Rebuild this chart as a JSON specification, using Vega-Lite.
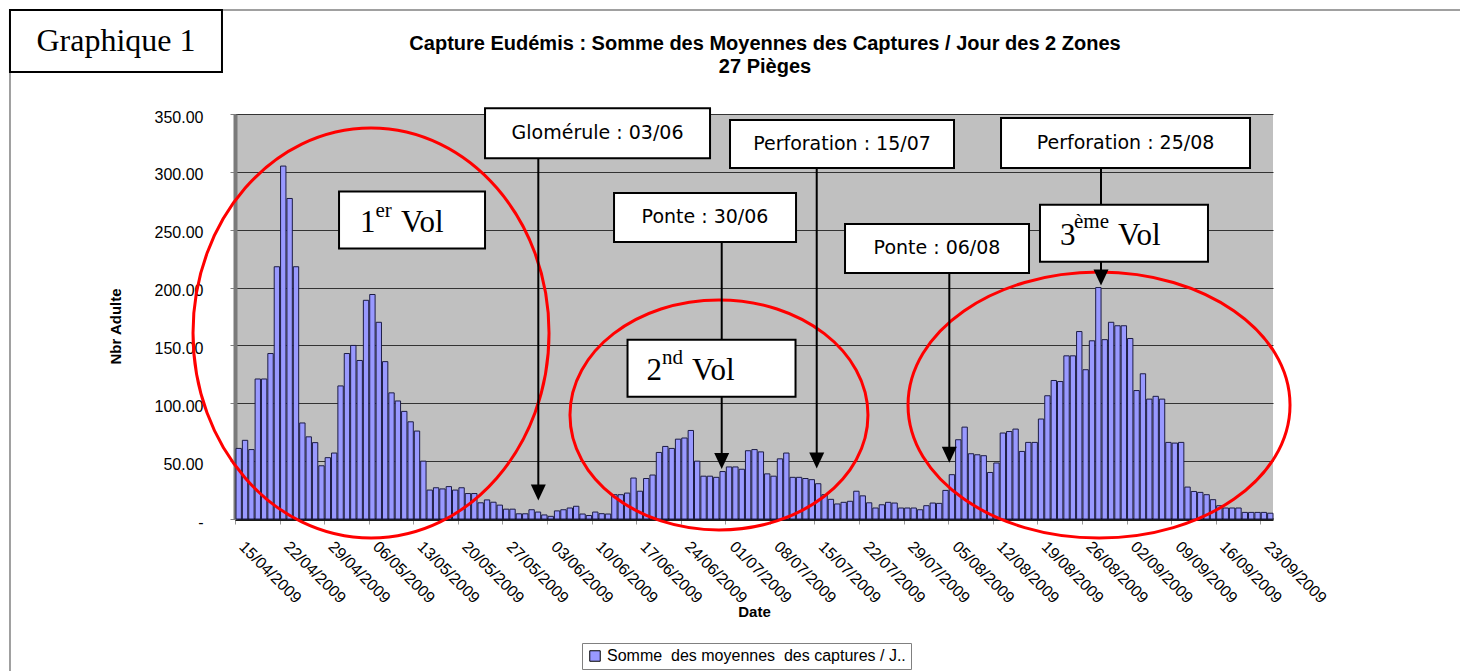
{
  "$schema": "https://vega.github.io/schema/vega-lite/v6.json",
  "width": 1038,
  "height": 405,
  "autosize": {"type": "none"},
  "padding": {"left": 235, "top": 114, "right": 187, "bottom": 152},
  "background": "#FFFFFF",
  "config": {"view": {"fill": "#C0C0C0", "stroke": null}},
  "title": {
    "text": ["Capture Eudémis : Somme des Moyennes des Captures / Jour des 2 Zones", "27 Pièges"],
    "font": "Liberation Sans", "fontSize": 20, "fontWeight": "bold", "color": "#000000",
    "anchor": "middle", "frame": "group", "offset": -71, "lineHeight": 23, "dx": 11
  },
  "resolve": {"scale": {"shape": "independent"}},
  "datasets": {
    "captures": [
      {"d":"2009-04-15","v":61},{"d":"2009-04-16","v":68},{"d":"2009-04-17","v":60},{"d":"2009-04-18","v":121},{"d":"2009-04-19","v":121},{"d":"2009-04-20","v":143},{"d":"2009-04-21","v":218},{"d":"2009-04-22","v":305},{"d":"2009-04-23","v":277},{"d":"2009-04-24","v":218},{"d":"2009-04-25","v":83},{"d":"2009-04-26","v":71},{"d":"2009-04-27","v":66},{"d":"2009-04-28","v":46},{"d":"2009-04-29","v":53},{"d":"2009-04-30","v":57},
      {"d":"2009-05-01","v":115},{"d":"2009-05-02","v":143},{"d":"2009-05-03","v":150},{"d":"2009-05-04","v":137},{"d":"2009-05-05","v":189},{"d":"2009-05-06","v":194},{"d":"2009-05-07","v":170},{"d":"2009-05-08","v":136},{"d":"2009-05-09","v":109},{"d":"2009-05-10","v":102},{"d":"2009-05-11","v":93},{"d":"2009-05-12","v":84},{"d":"2009-05-13","v":76},{"d":"2009-05-14","v":50},{"d":"2009-05-15","v":25},{"d":"2009-05-16","v":27},{"d":"2009-05-17","v":26},{"d":"2009-05-18","v":28},{"d":"2009-05-19","v":25},{"d":"2009-05-20","v":27},{"d":"2009-05-21","v":22},{"d":"2009-05-22","v":22},{"d":"2009-05-23","v":14},{"d":"2009-05-24","v":16.5},{"d":"2009-05-25","v":14.5},{"d":"2009-05-26","v":12},{"d":"2009-05-27","v":8.5},{"d":"2009-05-28","v":8.5},{"d":"2009-05-29","v":4.5},{"d":"2009-05-30","v":4.5},{"d":"2009-05-31","v":8},
      {"d":"2009-06-01","v":6},{"d":"2009-06-02","v":3.5},{"d":"2009-06-03","v":2.3},{"d":"2009-06-04","v":7},{"d":"2009-06-05","v":8},{"d":"2009-06-06","v":9.5},{"d":"2009-06-07","v":11},{"d":"2009-06-08","v":4.3},{"d":"2009-06-09","v":3},{"d":"2009-06-10","v":6},{"d":"2009-06-11","v":4.6},{"d":"2009-06-12","v":4.3},{"d":"2009-06-13","v":21},{"d":"2009-06-14","v":21},{"d":"2009-06-15","v":22.4},{"d":"2009-06-16","v":35.4},{"d":"2009-06-17","v":24},{"d":"2009-06-18","v":35},{"d":"2009-06-19","v":38},{"d":"2009-06-20","v":57.5},{"d":"2009-06-21","v":62.7},{"d":"2009-06-22","v":61},{"d":"2009-06-23","v":69},{"d":"2009-06-24","v":70},{"d":"2009-06-25","v":76.5},{"d":"2009-06-26","v":50},{"d":"2009-06-27","v":37},{"d":"2009-06-28","v":37},{"d":"2009-06-29","v":36},{"d":"2009-06-30","v":41},
      {"d":"2009-07-01","v":45},{"d":"2009-07-02","v":45},{"d":"2009-07-03","v":43},{"d":"2009-07-04","v":59},{"d":"2009-07-05","v":60},{"d":"2009-07-06","v":58},{"d":"2009-07-07","v":39},{"d":"2009-07-08","v":37},{"d":"2009-07-09","v":52},{"d":"2009-07-10","v":57},{"d":"2009-07-11","v":36},{"d":"2009-07-12","v":36},{"d":"2009-07-13","v":35},{"d":"2009-07-14","v":34},{"d":"2009-07-15","v":30.5},{"d":"2009-07-16","v":21},{"d":"2009-07-17","v":17},{"d":"2009-07-18","v":13},{"d":"2009-07-19","v":14.4},{"d":"2009-07-20","v":15.3},{"d":"2009-07-21","v":24},{"d":"2009-07-22","v":20},{"d":"2009-07-23","v":14},{"d":"2009-07-24","v":9.5},{"d":"2009-07-25","v":12.3},{"d":"2009-07-26","v":14.4},{"d":"2009-07-27","v":13.8},{"d":"2009-07-28","v":9.5},{"d":"2009-07-29","v":9.5},{"d":"2009-07-30","v":9.5},{"d":"2009-07-31","v":8},
      {"d":"2009-08-01","v":11.5},{"d":"2009-08-02","v":13.8},{"d":"2009-08-03","v":13.5},{"d":"2009-08-04","v":24.7},{"d":"2009-08-05","v":38.3},{"d":"2009-08-06","v":68.5},{"d":"2009-08-07","v":79.4},{"d":"2009-08-08","v":56.4},{"d":"2009-08-09","v":55.5},{"d":"2009-08-10","v":54.7},{"d":"2009-08-11","v":40.2},{"d":"2009-08-12","v":48.4},{"d":"2009-08-13","v":74.3},{"d":"2009-08-14","v":75.6},{"d":"2009-08-15","v":77.7},{"d":"2009-08-16","v":58.4},{"d":"2009-08-17","v":66.2},{"d":"2009-08-18","v":66.2},{"d":"2009-08-19","v":86.4},{"d":"2009-08-20","v":106.5},{"d":"2009-08-21","v":119.7},{"d":"2009-08-22","v":118.8},{"d":"2009-08-23","v":141},{"d":"2009-08-24","v":141},{"d":"2009-08-25","v":162},{"d":"2009-08-26","v":129},{"d":"2009-08-27","v":154},{"d":"2009-08-28","v":200},{"d":"2009-08-29","v":155},{"d":"2009-08-30","v":170},{"d":"2009-08-31","v":167},
      {"d":"2009-09-01","v":167},{"d":"2009-09-02","v":156},{"d":"2009-09-03","v":111},{"d":"2009-09-04","v":125.5},{"d":"2009-09-05","v":103.6},{"d":"2009-09-06","v":106},{"d":"2009-09-07","v":103.6},{"d":"2009-09-08","v":66.2},{"d":"2009-09-09","v":65.6},{"d":"2009-09-10","v":66.2},{"d":"2009-09-11","v":27.6},{"d":"2009-09-12","v":23.8},{"d":"2009-09-13","v":23},{"d":"2009-09-14","v":21},{"d":"2009-09-15","v":16.7},{"d":"2009-09-16","v":11.5},{"d":"2009-09-17","v":9.5},{"d":"2009-09-18","v":9.5},{"d":"2009-09-19","v":9.5},{"d":"2009-09-20","v":5.7},{"d":"2009-09-21","v":5.7},{"d":"2009-09-22","v":5.7},{"d":"2009-09-23","v":5.7},{"d":"2009-09-24","v":5}
    ],
    "frame": [
      {"d":"2009-03-10T16:00:00Z","d2":"2009-10-26T00:00:00Z","v":439.9,"v2":439.9},
      {"d":"2009-03-10T16:00:00Z","d2":"2009-03-10T16:00:00Z","v":439.9,"v2":-135}
    ],
    "ellipses": [
      {"id":"e1","d":"2009-05-06T08:38:00Z","v":160.7},
      {"id":"e2","d":"2009-06-30T00:00:00Z","v":89.9},
      {"id":"e3","d":"2009-08-28T16:19:00Z","v":98.5}
    ],
    "arrows": [
      {"d":"2009-06-01T15:07:00Z","v":311.7,"tip":22.9},
      {"d":"2009-07-15T08:24:00Z","v":303.3,"tip":50.6},
      {"d":"2009-06-30T10:19:00Z","v":239.4,"tip":50.1},
      {"d":"2009-08-05T04:05:00Z","v":212.6,"tip":55.6},
      {"d":"2009-08-28T23:46:00Z","v":303.3,"tip":208.7}
    ],
    "heads": [
      {"d":"2009-06-01T15:07:00Z","v":22.9},
      {"d":"2009-07-15T08:24:00Z","v":50.6},
      {"d":"2009-06-30T10:19:00Z","v":50.1},
      {"d":"2009-08-05T04:05:00Z","v":55.6},
      {"d":"2009-08-28T23:46:00Z","v":208.7}
    ],
    "boxes": [
      {"id":"glom","d":"2009-06-10T22:19:00Z","v":333.3,"txt":"Glomérule : 03/06"},
      {"id":"perf1","d":"2009-07-19T07:41:00Z","v":324.1,"txt":"Perforation : 15/07"},
      {"id":"perf2","d":"2009-09-01T20:10:00Z","v":325.0,"txt":"Perforation : 25/08"},
      {"id":"vol1","d":"2009-05-12T19:12:00Z","v":258.4,"txt":""},
      {"id":"ponte1","d":"2009-06-27T19:26:00Z","v":260.6,"txt":"Ponte : 30/06"},
      {"id":"ponte2","d":"2009-08-03T05:45:00Z","v":233.8,"txt":"Ponte : 06/08"},
      {"id":"vol3","d":"2009-09-01T14:24:00Z","v":246.9,"txt":""},
      {"id":"vol2","d":"2009-06-28T19:55:00Z","v":130.2,"txt":""},
      {"id":"graph","d":"2009-03-27T07:26:00Z","v":413.1,"txt":"Graphique 1"}
    ],
    "volMain": [
      {"t":"1","d":"2009-05-04T15:07:00Z","v":248.3},
      {"t":"Vol","d":"2009-05-11T01:41:00Z","v":248.3},
      {"t":"2","d":"2009-06-18T14:53:00Z","v":120.1},
      {"t":"Vol","d":"2009-06-25T18:29:00Z","v":120.1},
      {"t":"3","d":"2009-08-22T13:12:00Z","v":236.8},
      {"t":"Vol","d":"2009-08-31T15:50:00Z","v":236.8}
    ],
    "volSup": [
      {"t":"er","d":"2009-05-07T01:26:00Z","v":261.3},
      {"t":"nd","d":"2009-06-21T01:12:00Z","v":133.7},
      {"t":"ème","d":"2009-08-24T18:00:00Z","v":251.2}
    ]
  },
  "layer": [
    {
      "data": {"name": "captures"},
      "mark": {"type": "bar", "stroke": "#1c1c44", "strokeWidth": 1},
      "encoding": {
        "x": {
          "field": "d", "type": "temporal", "timeUnit": "utcyearmonthdate",
          "scale": {"type": "utc", "nice": false, "domain": [{"year":2009,"month":"apr","date":15,"utc":true},{"year":2009,"month":"sep","date":25,"utc":true}]},
          "axis": {
            "title": "Date",
            "values": [
              {"year":2009,"month":"apr","date":15,"utc":true},{"year":2009,"month":"apr","date":22,"utc":true},{"year":2009,"month":"apr","date":29,"utc":true},
              {"year":2009,"month":"may","date":6,"utc":true},{"year":2009,"month":"may","date":13,"utc":true},{"year":2009,"month":"may","date":20,"utc":true},{"year":2009,"month":"may","date":27,"utc":true},
              {"year":2009,"month":"jun","date":3,"utc":true},{"year":2009,"month":"jun","date":10,"utc":true},{"year":2009,"month":"jun","date":17,"utc":true},{"year":2009,"month":"jun","date":24,"utc":true},
              {"year":2009,"month":"jul","date":1,"utc":true},{"year":2009,"month":"jul","date":8,"utc":true},{"year":2009,"month":"jul","date":15,"utc":true},{"year":2009,"month":"jul","date":22,"utc":true},{"year":2009,"month":"jul","date":29,"utc":true},
              {"year":2009,"month":"aug","date":5,"utc":true},{"year":2009,"month":"aug","date":12,"utc":true},{"year":2009,"month":"aug","date":19,"utc":true},{"year":2009,"month":"aug","date":26,"utc":true},
              {"year":2009,"month":"sep","date":2,"utc":true},{"year":2009,"month":"sep","date":9,"utc":true},{"year":2009,"month":"sep","date":16,"utc":true},{"year":2009,"month":"sep","date":23,"utc":true}
            ],
            "labelExpr": "utcFormat(datum.value, '%d/%m/%Y')",
            "labelAngle": 45, "labelAlign": "left", "labelBaseline": "top",
            "labelFont": "Liberation Sans", "labelFontSize": 16, "labelColor": "#000000",
            "labelPadding": 14, "labelOffset": 12, "labelOverlap": false, "labelFlush": false, "labelBound": false,
            "tickSize": 5, "tickColor": "#999999", "domainColor": "#1a1a1a", "domainWidth": 3, "grid": false,
            "titleFont": "Liberation Sans", "titleFontSize": 15, "titleFontWeight": "bold", "titleColor": "#000000",
            "titleX": 519, "titleY": 92, "titleBaseline": "middle"
          }
        },
        "y": {
          "field": "v", "type": "quantitative",
          "scale": {"domain": [0, 350], "nice": false},
          "axis": {
            "title": "Nbr Adulte",
            "values": [0, 50, 100, 150, 200, 250, 300, 350],
            "labelExpr": "datum.value == 0 ? '-\u2007' : format(datum.value, '.2f')",
            "grid": true, "gridColor": "#333333", "gridWidth": 1,
            "domainColor": "#7a7a7a", "domainWidth": 4,
            "tickColor": "#808080", "tickSize": 5,
            "labelPadding": 27, "labelOffset": 3,
            "labelFont": "Liberation Sans", "labelFontSize": 16, "labelColor": "#000000",
            "titleFont": "Liberation Sans", "titleFontSize": 15, "titleFontWeight": "bold", "titleColor": "#000000",
            "titleAngle": -90, "titleX": -120, "titleY": 212, "titleBaseline": "middle", "titleAlign": "center"
          }
        },
        "color": {
          "datum": "Somme\u00a0 des moyennes\u00a0 des captures / J..", "type": "nominal",
          "scale": {"range": ["#9999FF"]},
          "legend": {
            "title": null, "orient": "none", "legendX": 347, "legendY": 529, "direction": "horizontal",
            "symbolType": "square", "symbolSize": 110, "symbolStrokeColor": "#000000", "symbolStrokeWidth": 1,
            "labelFont": "Liberation Sans", "labelFontSize": 16, "labelColor": "#000000", "labelLimit": 500,
            "strokeColor": "#808080", "fillColor": "#FFFFFF", "padding": 5
          }
        }
      }
    },
    {
      "data": {"name": "frame"},
      "mark": {"type": "rule", "color": "#808080", "strokeWidth": 1.5},
      "encoding": {
        "x": {"field": "d", "type": "temporal"},
        "x2": {"field": "d2"},
        "y": {"field": "v", "type": "quantitative"},
        "y2": {"field": "v2"}
      }
    },
    {
      "data": {"name": "ellipses"},
      "mark": {"type": "point", "filled": false, "color": "#FF0000", "strokeWidth": 3, "size": 4, "opacity": 1},
      "encoding": {
        "x": {"field": "d", "type": "temporal"},
        "y": {"field": "v", "type": "quantitative"},
        "shape": {
          "field": "id", "type": "nominal", "legend": null,
          "scale": {
            "domain": ["e1", "e2", "e3"],
            "range": [
              "M-178,0C-178,-113.2,-98.3,-205,0,-205C98.3,-205,178,-113.2,178,0C178,113.2,98.3,205,0,205C-98.3,205,-178,113.2,-178,0Z",
              "M-149,0C-149,-63.5,-82.3,-115,0,-115C82.3,-115,149,-63.5,149,0C149,63.5,82.3,115,0,115C-82.3,115,-149,63.5,-149,0Z",
              "M-191,0C-191,-73.5,-105.5,-133,0,-133C105.5,-133,191,-73.5,191,0C191,73.5,105.5,133,0,133C-105.5,133,-191,73.5,-191,0Z"
            ]
          }
        }
      }
    },
    {
      "data": {"name": "arrows"},
      "mark": {"type": "rule", "color": "#000000", "strokeWidth": 2},
      "encoding": {
        "x": {"field": "d", "type": "temporal"},
        "y": {"field": "v", "type": "quantitative"},
        "y2": {"field": "tip"}
      }
    },
    {
      "data": {"name": "heads"},
      "mark": {"type": "point", "filled": true, "color": "#000000", "size": 4, "opacity": 1, "shape": "M-7.5,-8L7.5,-8L0,8Z"},
      "encoding": {
        "x": {"field": "d", "type": "temporal"},
        "y": {"field": "v", "type": "quantitative"}
      }
    },
    {
      "data": {"name": "boxes"},
      "mark": {"type": "point", "filled": true, "fill": "#FFFFFF", "stroke": "#000000", "strokeWidth": 2, "size": 4, "opacity": 1, "fillOpacity": 1},
      "encoding": {
        "x": {"field": "d", "type": "temporal"},
        "y": {"field": "v", "type": "quantitative"},
        "shape": {
          "field": "id", "type": "nominal", "legend": null,
          "scale": {
            "domain": ["glom", "perf1", "perf2", "vol1", "ponte1", "ponte2", "vol3", "vol2", "graph"],
            "range": [
              "M-112.5,-25L112.5,-25L112.5,25L-112.5,25Z",
              "M-112,-24L112,-24L112,24L-112,24Z",
              "M-124.5,-25L124.5,-25L124.5,25L-124.5,25Z",
              "M-73,-28.5L73,-28.5L73,28.5L-73,28.5Z",
              "M-91,-24.5L91,-24.5L91,24.5L-91,24.5Z",
              "M-92,-24.5L92,-24.5L92,24.5L-92,24.5Z",
              "M-84,-28.5L84,-28.5L84,28.5L-84,28.5Z",
              "M-84,-28.5L84,-28.5L84,28.5L-84,28.5Z",
              "M-106,-31L106,-31L106,31L-106,31Z"
            ]
          }
        }
      }
    },
    {
      "data": {"name": "boxes"},
      "transform": [{"filter": "datum.txt != '' && datum.id != 'graph'"}],
      "mark": {"type": "text", "font": "DejaVu Sans", "fontSize": 19, "color": "#000000", "align": "center", "baseline": "middle"},
      "encoding": {
        "x": {"field": "d", "type": "temporal"},
        "y": {"field": "v", "type": "quantitative"},
        "text": {"field": "txt"}
      }
    },
    {
      "data": {"name": "boxes"},
      "transform": [{"filter": "datum.id == 'graph'"}],
      "mark": {"type": "text", "font": "Liberation Serif", "fontSize": 32, "color": "#000000", "align": "center", "baseline": "middle"},
      "encoding": {
        "x": {"field": "d", "type": "temporal"},
        "y": {"field": "v", "type": "quantitative"},
        "text": {"field": "txt"}
      }
    },
    {
      "data": {"name": "volMain"},
      "mark": {"type": "text", "font": "Liberation Serif", "fontSize": 31, "color": "#000000", "align": "left", "baseline": "alphabetic"},
      "encoding": {
        "x": {"field": "d", "type": "temporal"},
        "y": {"field": "v", "type": "quantitative"},
        "text": {"field": "t"}
      }
    },
    {
      "data": {"name": "volSup"},
      "mark": {"type": "text", "font": "Liberation Serif", "fontSize": 21, "color": "#000000", "align": "left", "baseline": "alphabetic"},
      "encoding": {
        "x": {"field": "d", "type": "temporal"},
        "y": {"field": "v", "type": "quantitative"},
        "text": {"field": "t"}
      }
    }
  ]
}
